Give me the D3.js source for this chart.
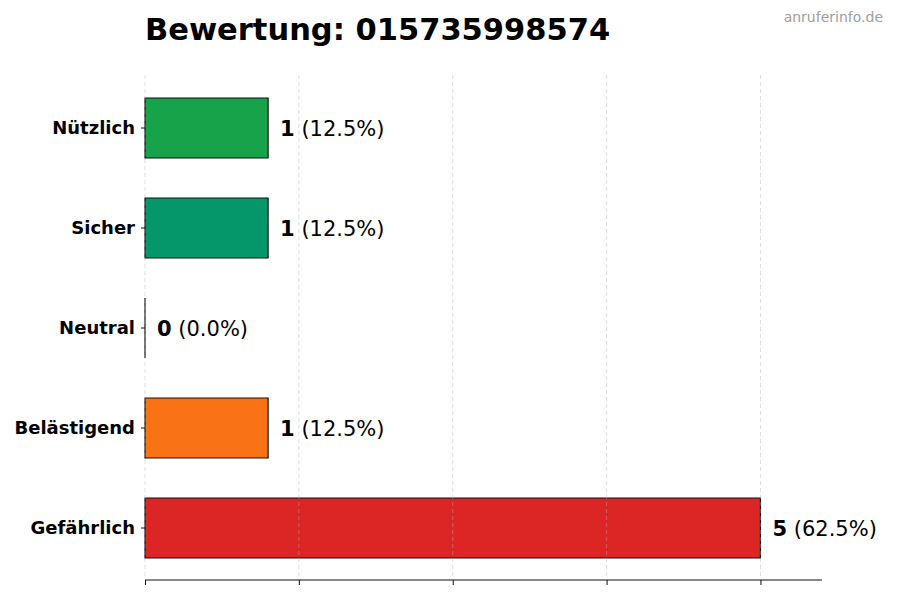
<!DOCTYPE html>
<html>
<head>
<meta charset="utf-8">
<script src="https://cdn.jsdelivr.net/npm/d3@7"></script>
<style>
  body { margin: 0; background: #fff; }
  svg { font-family: "DejaVu Sans", sans-serif; }
</style>
</head>
<body>
<div id="chart"></div>
<script>
var categories = ["Nützlich", "Sicher", "Neutral", "Belästigend", "Gefährlich"];
var counts = [1, 1, 0, 1, 5];
var percents = ["12.5%", "12.5%", "0.0%", "12.5%", "62.5%"];
var colors = ["#16a34a", "#059669", "#6b7280", "#f97316", "#dc2626"];
var xTicks = [0, 1.25, 2.5, 3.75, 5];

var width = 900, height = 600;
var margin = {top: 78, right: 78, bottom: 22, left: 145};

var svg = d3.select("#chart").append("svg")
    .attr("width", width)
    .attr("height", height);

var x = d3.scaleLinear()
    .domain([0, 5.5])
    .range([margin.left, width - margin.right]);

var y = d3.scaleBand()
    .domain(categories)
    .range([margin.top, height - margin.bottom])
    .paddingInner(0.4)
    .paddingOuter(0.2);

///////////// BARS /////////////
// drawn as paths so a zero bar still shows its outline
svg.append("g")
    .selectAll("path")
    .data(categories)
    .enter().append("path")
    .attr("d", function(d, i) {
        var w = x(counts[i]) - x(0);
        return "M" + x(0) + "," + y(d) + "h" + w + "v" + y.bandwidth() + "h" + (-w) + "Z";
    })
    .attr("fill", function(d, i) { return colors[i]; })
    .attr("stroke", "#111")
    .attr("stroke-width", 1.2);

///////////// GRID /////////////
svg.append("g")
    .selectAll("line")
    .data(xTicks)
    .enter().append("line")
    .attr("x1", function(d) { return x(d); })
    .attr("x2", function(d) { return x(d); })
    .attr("y1", 75)
    .attr("y2", height - margin.bottom)
    .attr("stroke", "#b0b0b0")
    .attr("stroke-opacity", 0.5)
    .attr("stroke-width", 0.8)
    .attr("stroke-dasharray", "4,3");

///////////// VALUE LABELS /////////////
var lab = svg.append("g")
    .selectAll("text")
    .data(categories)
    .enter().append("text")
    .attr("x", function(d, i) { return x(counts[i]) + 12; })
    .attr("y", function(d) { return y(d) + y.bandwidth() / 2; })
    .attr("dy", "0.36em")
    .attr("font-size", 21)
    .attr("fill", "#000");
lab.append("tspan")
    .attr("font-weight", "bold")
    .text(function(d, i) { return counts[i]; });
lab.append("tspan")
    .text(function(d, i) { return " (" + percents[i] + ")"; });

///////////// AXES /////////////
var xAxis = svg.append("g")
    .attr("transform", "translate(0," + (height - margin.bottom + 2) + ")")
    .call(d3.axisBottom(x).tickValues(xTicks).tickSize(5).tickFormat(""));
xAxis.select(".domain").attr("stroke", "#111").attr("d", "M" + x(0) + ",0H" + x(5.5));
xAxis.selectAll(".tick line").attr("stroke", "#111");

var yAxis = svg.append("g")
    .attr("transform", "translate(" + margin.left + ",0)")
    .call(d3.axisLeft(y).tickSize(4).tickPadding(6));
yAxis.select(".domain").remove();
yAxis.selectAll(".tick line").attr("stroke", "#111");
yAxis.selectAll(".tick text")
    .attr("font-family", "DejaVu Sans, sans-serif")
    .attr("font-size", 18)
    .attr("font-weight", "bold")
    .attr("fill", "#000");

///////////// TITLE /////////////
svg.append("text")
    .attr("x", margin.left)
    .attr("y", 40)
    .attr("font-size", 30.5)
    .attr("font-weight", "bold")
    .attr("fill", "#000")
    .text("Bewertung: 015735998574");

svg.append("text")
    .attr("x", 883)
    .attr("y", 22)
    .attr("text-anchor", "end")
    .attr("font-size", 14)
    .attr("fill", "#a0a0a0")
    .text("anruferinfo.de");
</script>
</body>
</html>
